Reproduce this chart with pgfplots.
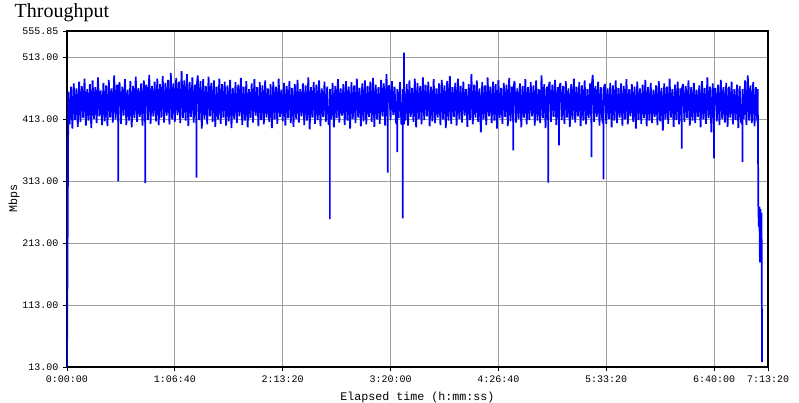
\documentclass[border=0pt]{standalone}
\usepackage{pgfplots}
\pgfplotsset{compat=1.18}
\usepackage{fontspec}
\setmainfont{Liberation Serif}
\setmonofont{Liberation Mono}

\begin{document}
\begin{tikzpicture}
\begin{axis}[
  at={(0,0)}, anchor=south west,
  scale only axis, width=525.75pt, height=252pt,
  xmin=0, xmax=26000, ymin=13, ymax=555.85,
  scaled x ticks=false, scaled y ticks=false,
  xtick={0,4000,8000,12000,16000,20000,24000,26000},
  xticklabels={0:00:00,1:06:40,2:13:20,3:20:00,4:26:40,5:33:20,6:40:00,7:13:20},
  ytick={13,113,213,313,413,513,555.85},
  yticklabels={13.00,113.00,213.00,313.00,413.00,513.00,555.85},
  tick align=outside, major tick length=3pt,
  xtick pos=bottom, ytick pos=left,
  grid=major, grid style={gray!75, line width=0.6pt},
  axis line style={black, line width=0.8pt},
  tick style={black, line width=0.6pt},
  ticklabel style={font=\ttfamily\fontsize{7.5}{9}\selectfont},
  xlabel={Elapsed time (h:mm:ss)}, ylabel={Mbps},
  xlabel style={font=\ttfamily\fontsize{8.75}{10}\selectfont, at={(axis description cs:0.5,0)}, anchor=north, yshift=-15pt},
  ylabel style={font=\ttfamily\fontsize{8.75}{10}\selectfont, at={(axis description cs:-0.0756,0.5)}, anchor=center},
]
\addplot[blue, line width=1.3pt, mark=none, line join=bevel] coordinates {
(0,13) (50,458) (100,405) (150,466) (200,398) (250,471) (300,412) (350,463) (400,401) (450,474)
(500,409) (550,467) (600,415) (650,479) (700,403) (750,462) (800,411) (850,470) (900,399) (950,476)
(1000,414) (1050,465) (1100,407) (1150,481) (1200,418) (1250,460) (1300,404) (1350,472) (1400,410) (1450,468)
(1500,402) (1550,477) (1600,416) (1650,463) (1700,408) (1750,484) (1800,413) (1850,469) (1900,405) (1900,313) (1900,462) (1950,473)
(2000,406) (2050,466) (2100,419) (2150,478) (2200,404) (2250,461) (2300,411) (2350,475) (2400,400) (2450,467)
(2500,415) (2550,482) (2600,409) (2650,464) (2700,417) (2750,471) (2800,403) (2850,476) (2900,405) (2900,310) (2900,462) (2950,469)
(3000,412) (3050,485) (3100,406) (3150,467) (3200,418) (3250,474) (3300,410) (3350,479) (3400,404) (3450,470)
(3500,416) (3550,483) (3600,408) (3650,472) (3700,419) (3750,477) (3800,405) (3850,488) (3900,413) (3950,471)
(4000,409) (4050,480) (4100,420) (4150,474) (4200,407) (4250,491) (4300,415) (4350,476) (4400,411) (4450,486)
(4500,402) (4550,473) (4600,417) (4650,481) (4700,408) (4750,469) (4800,405) (4800,319) (4800,462) (4850,484) (4900,412) (4950,475)
(5000,398) (5050,478) (5100,414) (5150,467) (5200,405) (5250,482) (5300,418) (5350,472) (5400,409) (5450,476)
(5500,401) (5550,466) (5600,413) (5650,479) (5700,406) (5750,470) (5800,416) (5850,474) (5900,403) (5950,468)
(6000,410) (6050,477) (6100,399) (6150,464) (6200,414) (6250,473) (6300,407) (6350,469) (6400,418) (6450,480)
(6500,404) (6550,466) (6600,411) (6650,475) (6700,400) (6750,462) (6800,415) (6850,471) (6900,408) (6950,478)
(7000,419) (7050,465) (7100,402) (7150,473) (7200,412) (7250,468) (7300,405) (7350,476) (7400,416) (7450,463)
(7500,409) (7550,470) (7600,399) (7650,474) (7700,413) (7750,466) (7800,406) (7850,479) (7900,417) (7950,461)
(8000,410) (8050,472) (8100,403) (8150,467) (8200,415) (8250,475) (8300,407) (8350,464) (8400,401) (8450,470)
(8500,414) (8550,477) (8600,408) (8650,462) (8700,418) (8750,471) (8800,404) (8850,468) (8900,411) (8950,481)
(9000,397) (9050,465) (9100,416) (9150,473) (9200,406) (9250,469) (9300,412) (9350,476) (9400,402) (9450,463)
(9500,417) (9550,474) (9600,409) (9650,466) (9700,405) (9750,405) (9750,252) (9750,462) (9800,413) (9850,472) (9900,400) (9950,467)
(10000,415) (10050,478) (10100,408) (10150,463) (10200,419) (10250,470) (10300,404) (10350,475) (10400,411) (10450,466)
(10500,398) (10550,473) (10600,414) (10650,468) (10700,407) (10750,479) (10800,416) (10850,464) (10900,402) (10950,471)
(11000,410) (11050,476) (11100,405) (11150,467) (11200,417) (11250,474) (11300,409) (11350,480) (11400,401) (11450,469)
(11500,413) (11550,465) (11600,406) (11650,477) (11700,418) (11750,471) (11800,403) (11850,486) (11900,405) (11900,327) (11900,462) (11950,468)
(12000,412) (12050,475) (12100,420) (12150,466) (12200,408) (12250,405) (12250,360) (12250,462) (12300,415) (12350,473) (12400,406) (12450,405) (12450,253) (12450,462)
(12500,405) (12500,521) (12500,462) (12550,411) (12600,470) (12650,403) (12700,476) (12750,417) (12800,464) (12850,409) (12900,479) (12950,400)
(13000,472) (13050,414) (13100,467) (13150,405) (13200,481) (13250,412) (13300,469) (13350,418) (13400,474) (13450,402)
(13500,466) (13550,410) (13600,478) (13650,407) (13700,463) (13750,416) (13800,471) (13850,404) (13900,477) (13950,413)
(14000,468) (14050,399) (14100,475) (14150,411) (14200,483) (14250,406) (14300,465) (14350,417) (14400,472) (14450,403)
(14500,479) (14550,414) (14600,467) (14650,408) (14700,474) (14750,419) (14800,462) (14850,401) (14900,470) (14950,412)
(15000,486) (15050,405) (15100,469) (15150,416) (15200,476) (15250,409) (15300,463) (15350,392) (15400,473) (15450,413)
(15500,468) (15550,404) (15600,481) (15650,418) (15700,466) (15750,407) (15800,474) (15850,411) (15900,470) (15950,398)
(16000,477) (16050,415) (16100,464) (16150,406) (16200,472) (16250,417) (16300,469) (16350,402) (16400,480) (16450,410)
(16500,466) (16550,405) (16550,363) (16550,462) (16600,475) (16650,408) (16700,463) (16750,414) (16800,471) (16850,400) (16900,467) (16950,416)
(17000,478) (17050,405) (17100,465) (17150,412) (17200,473) (17250,418) (17300,468) (17350,403) (17400,476) (17450,411)
(17500,462) (17550,407) (17600,484) (17650,415) (17700,470) (17750,399) (17800,466) (17850,405) (17850,311) (17850,462) (17900,474) (17950,409)
(18000,469) (18050,417) (18100,477) (18150,404) (18200,465) (18250,405) (18250,371) (18250,462) (18300,472) (18350,412) (18400,467) (18450,406)
(18500,475) (18550,416) (18600,463) (18650,401) (18700,470) (18750,413) (18800,479) (18850,408) (18900,466) (18950,418)
(19000,473) (19050,402) (19100,468) (19150,411) (19200,476) (19250,405) (19300,462) (19350,415) (19400,471) (19450,405) (19450,352) (19450,462)
(19500,485) (19550,409) (19600,467) (19650,417) (19700,474) (19750,403) (19800,465) (19850,412) (19900,405) (19900,316) (19900,462) (19950,470)
(20000,406) (20050,463) (20100,414) (20150,472) (20200,400) (20250,468) (20300,411) (20350,476) (20400,407) (20450,464)
(20500,416) (20550,471) (20600,403) (20650,467) (20700,413) (20750,478) (20800,405) (20850,462) (20900,418) (20950,470)
(21000,409) (21050,466) (21100,398) (21150,474) (21200,412) (21250,463) (21300,406) (21350,469) (21400,415) (21450,477)
(21500,402) (21550,465) (21600,411) (21650,472) (21700,407) (21750,461) (21800,417) (21850,468) (21900,404) (21950,475)
(22000,410) (22050,464) (22100,395) (22150,471) (22200,413) (22250,466) (22300,406) (22350,479) (22400,416) (22450,462)
(22500,401) (22550,469) (22600,412) (22650,474) (22700,405) (22750,463) (22800,405) (22800,366) (22800,462) (22850,470) (22900,409) (22950,467)
(23000,415) (23050,476) (23100,403) (23150,465) (23200,411) (23250,472) (23300,407) (23350,461) (23400,417) (23450,468)
(23500,400) (23550,475) (23600,413) (23650,464) (23700,406) (23750,481) (23800,415) (23850,466) (23900,392) (23950,471)
(24000,405) (24000,350) (24000,462) (24050,463) (24100,410) (24150,469) (24200,404) (24250,477) (24300,414) (24350,465) (24400,408) (24450,472)
(24500,401) (24550,466) (24600,416) (24650,474) (24700,405) (24750,462) (24800,412) (24850,469) (24900,399) (24950,467)
(25000,409) (25050,405) (25050,344) (25050,462) (25100,414) (25150,476) (25200,404) (25250,484) (25300,411) (25350,468) (25400,407) (25450,473)
(25500,402) (25550,465) (25600,410) (25620,462) (25640,277) (25660,240) (25680,272) (25700,182) (25720,268) (25740,225)
(25760,262) (25780,21)
};
\end{axis}
\node[anchor=base west, font=\fontsize{15}{17}\selectfont] at (-42.75pt,261.75pt) {Throughput};
\pgfresetboundingbox
\path (-50.25pt,-27pt) rectangle (549pt,275.25pt);
\end{tikzpicture}
\end{document}
